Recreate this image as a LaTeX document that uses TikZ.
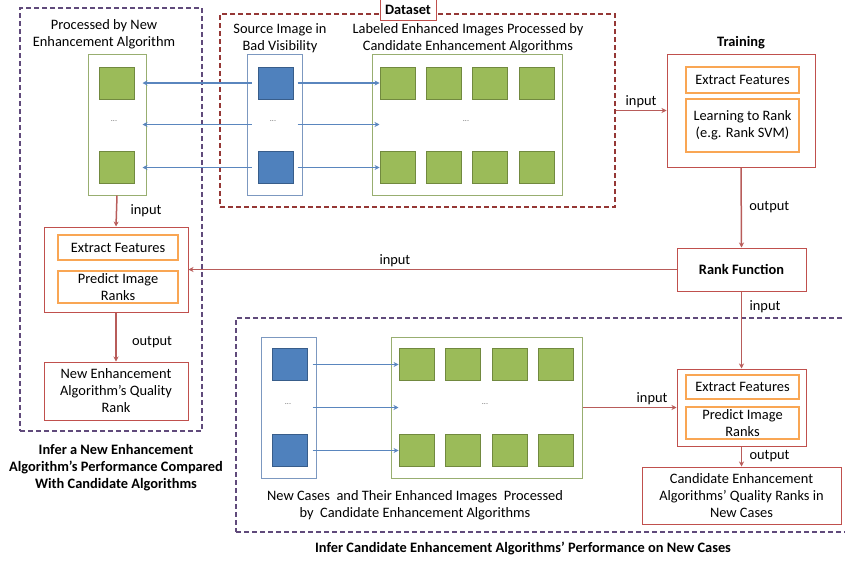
\documentclass[tikz,border=0pt]{standalone}
\usepackage{fontspec}
\setmainfont{Carlito}
\usepackage{tikz}
\usetikzlibrary{positioning, arrows.meta, calc}
\usepackage{xcolor}

\definecolor{sqgreen}{HTML}{9BBB59}
\definecolor{sqgreenD}{HTML}{71893F}
\definecolor{sqblue}{HTML}{4F81BD}
\definecolor{sqblueD}{HTML}{385D8A}
\definecolor{frmgreen}{HTML}{98AE70}
\definecolor{frmblue}{HTML}{7C98C0}
\definecolor{boxred}{HTML}{C0504D}
\definecolor{arrred}{HTML}{B85C5A}
\definecolor{boxorange}{HTML}{F9A654}
\definecolor{dsred}{HTML}{953735}
\definecolor{grppurple}{HTML}{604A7B}
\definecolor{arrblue}{HTML}{5A86BE}

\newcommand{\basefont}{\fontsize{14.4}{17}\selectfont}

\tikzset{
  gimg/.style={rectangle, draw=sqgreenD, fill=sqgreen, line width=0.8pt,
    minimum width=35pt, minimum height=32pt, inner sep=0pt},
  bimg/.style={gimg, draw=sqblueD, fill=sqblue},
  gframe/.style={rectangle, draw=frmgreen, line width=1pt, minimum height=141pt},
  bframe/.style={gframe, draw=frmblue},
  redbox/.style={rectangle, draw=boxred, line width=1pt, align=center, inner sep=0pt},
  orbox/.style={rectangle, draw=boxorange, line width=1.3pt, align=center, inner sep=0pt},
  grpbox/.style={rectangle, draw=grppurple, line width=1.2pt, dash pattern=on 5pt off 3pt},
  dsbox/.style={grpbox, draw=dsred},
  ttl/.style={align=center, font=\basefont\bfseries},
  dots/.style={font=\fontsize{8}{9}\selectfont, text=black!60},
  rarrow/.style={draw=arrred, line width=1.5pt, -{Stealth[length=5pt,width=5pt]}},
  barrow/.style={draw=arrblue, line width=1.7pt, -{Stealth[length=5pt,width=5pt]}},
}

\begin{document}
\begin{tikzpicture}[x=1pt, y=-1pt, font=\basefont]
\useasboundingbox (0,0) rectangle (845,560);
\clip (0,0) rectangle (845,560);

% groups
\node[grpbox, minimum width=182pt, minimum height=423pt] (infernew) at (111,219.5) {};
\node[dsbox, minimum width=395pt, minimum height=193pt] (dataset) at (417.5,110.5) {};
\node[grpbox, minimum width=620pt, minimum height=214pt] (infercases) at (546,425) {};
\node[rectangle, draw=boxred, line width=1pt, fill=white, font=\basefont\bfseries,
  minimum width=56pt, minimum height=21pt] (dslabel) at (408,10) {Dataset};

% top row of images
\node[align=center] (ttlnew) at (104,34.5) {Processed by New\\Enhancement Algorithm};
\node[gframe, minimum width=58pt] (newframe) at (117,124.5) {};
\node[gimg] (new1) at (117,83) {};
\node[gimg] (new2) at (117,167.5) {};
\node[dots] at (114,121) {...};

\node[align=center] (ttlsrc) at (280,38.5) {Source Image in\\Bad Visibility};
\node[bframe, minimum width=55pt] (srcframe) at (274.5,124.5) {};
\node[bimg] (src1) at (275.5,83) {};
\node[bimg] (src2) at (275.5,167.5) {};
\node[dots] at (273,121) {...};

\node[align=center] (ttllab) at (468,38.5) {Labeled Enhanced Images Processed by\\Candidate Enhancement Algorithms};
\node[gframe, minimum width=190pt] (labframe) at (467,124.5) {};
\foreach \i/\x in {1/397.5, 2/443.5, 3/489.5, 4/536.5} {
  \node[gimg] (labA\i) at (\x,83) {};
  \node[gimg] (labB\i) at (\x,167.5) {};
}
\node[dots] at (466,121) {...};

\draw[barrow] ($(src1 -| srcframe.west)+(5,0)$) -- ($(src1 -| newframe.east)+(-4,0)$);
\draw[barrow] ($(srcframe.west)+(5,0)$) -- ($(srcframe -| newframe.east)+(-4,0)$);
\draw[barrow] ($(src2 -| srcframe.west)+(5,0)$) -- ($(src2 -| newframe.east)+(-4,0)$);
\draw[barrow] ($(src1 -| srcframe.east)+(-5,0)$) -- (labA1.west);
\draw[barrow] ($(srcframe.east)+(-5,0)$) -- ($(srcframe -| labframe.west)+(8,0)$);
\draw[barrow] ($(src2 -| srcframe.east)+(-5,0)$) -- (labB1.west);

% training
\node[ttl] (ttltrain) at (741,43) {Training};
\node[redbox, minimum width=148pt, minimum height=113pt] (trainbox) at (741,110.5) {};
\node[orbox, minimum width=113pt, minimum height=26pt] (trainef) at (742.5,80) {Extract Features};
\node[orbox, minimum width=113pt, minimum height=53pt] (trainlr) at (742.5,125.5) {Learning to Rank\\(e.g. Rank SVM)};
\node[redbox, minimum width=129pt, minimum height=43pt, font=\basefont\bfseries] (rankfn) at (741.5,269.5) {Rank Function};

% new algorithm
\node[redbox, minimum width=144pt, minimum height=85pt] (procnew) at (116,269.5) {};
\node[orbox, minimum width=120pt, minimum height=25pt] (procnewef) at (118,247.5) {Extract Features};
\node[orbox, minimum width=120pt, minimum height=32pt] (procnewpr) at (118,287) {Predict Image\\Ranks};
\node[redbox, minimum width=144pt, minimum height=58pt] (newrank) at (116,391) {New Enhancement\\Algorithm’s Quality\\Rank};
\node[ttl] (capnew) at (116,467.5) {Infer a New Enhancement\\Algorithm’s Performance Compared\\With Candidate Algorithms};

% new cases
\node[bframe, minimum width=55pt] (nsrcframe) at (288.5,407.5) {};
\node[bimg] (nsrc1) at (289.5,364.5) {};
\node[bimg] (nsrc2) at (289.5,450.5) {};
\node[dots] at (288,404) {...};
\node[gframe, minimum width=191pt] (nlabframe) at (486.5,407.5) {};
\foreach \i/\x in {1/416.5, 2/462.5, 3/509.5, 4/555.5} {
  \node[gimg] (nlabA\i) at (\x,364.5) {};
  \node[gimg] (nlabB\i) at (\x,450.5) {};
}
\node[dots] at (485,404) {...};
\draw[barrow] ($(nsrc1 -| nsrcframe.east)+(-4,0)$) -- (nlabA1.west);
\draw[barrow] ($(nsrcframe.east)+(-4,0)$) -- ($(nsrcframe -| nlabframe.west)+(8,0)$);
\draw[barrow] ($(nsrc2 -| nsrcframe.east)+(-4,0)$) -- (nlabB1.west);
\node[align=center] (capcases) at (415,505) {New Cases\ \ and Their Enhanced Images\ \ Processed\\by\ \ Candidate Enhancement Algorithms};

\node[redbox, minimum width=129pt, minimum height=77pt] (proccases) at (741.5,407.5) {};
\node[orbox, minimum width=113pt, minimum height=24pt] (proccasesef) at (742.5,387) {Extract Features};
\node[orbox, minimum width=113pt, minimum height=32pt] (proccasespr) at (742.5,423) {Predict Image\\Ranks};
\node[redbox, minimum width=199pt, minimum height=57pt] (candrank) at (741.5,495.5) {Candidate Enhancement\\Algorithms’ Quality Ranks in\\New Cases};
\node[ttl] (capcands) at (523,548) {Infer Candidate Enhancement Algorithms’ Performance on New Cases};

% flow
\draw[rarrow] (dataset.east) -- node[above, inner sep=2pt] {input} (trainbox.west);
\draw[rarrow] (trainbox.south) -- node[right=4pt] {output} (rankfn.north);
\draw[rarrow] (rankfn.west) -- node[pos=0.577, above, inner sep=2pt] {input} (procnew.east);
\draw[rarrow] (rankfn.south) -- node[pos=0.2, right=4pt] {input} (proccases.north);
\draw[rarrow] (nlabframe.east) -- node[pos=0.74, above, inner sep=2pt] {input} (proccases.west);
\draw[rarrow] (proccases.south) -- node[right=4pt] {output} (candrank.north);
\draw[rarrow] (newframe.south) -- node[right=10pt] {input} (procnew.north);
\draw[rarrow] (procnew.south) -- node[pos=0.6, right=12pt] {output} (newrank.north);

\end{tikzpicture}
\end{document}
